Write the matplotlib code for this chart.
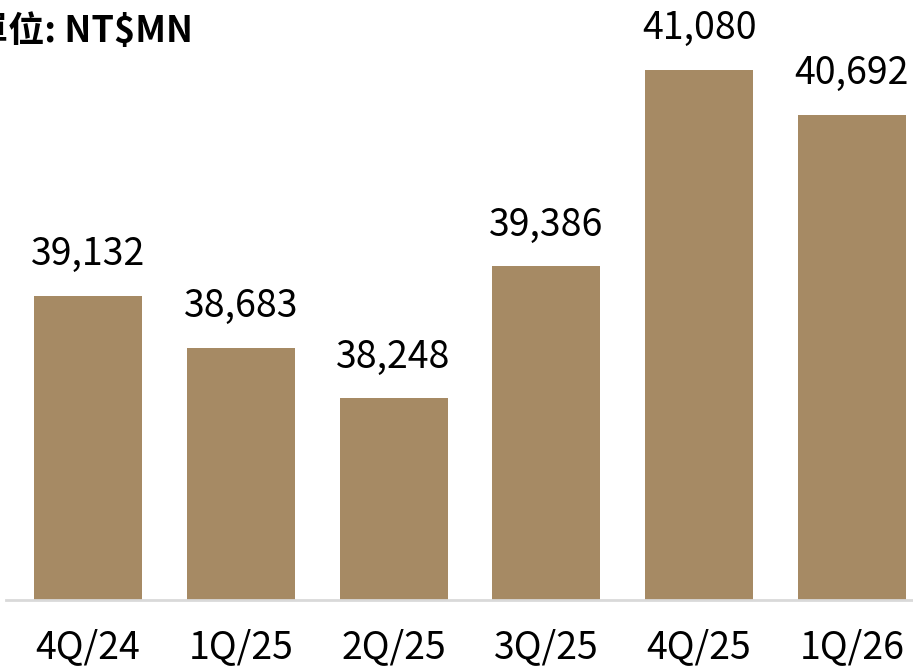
import matplotlib.pyplot as plt

plt.rcParams['font.family'] = ['Noto Sans CJK TC', 'DejaVu Sans']

# 資料
quarters = ['4Q/24', '1Q/25', '2Q/25', '3Q/25', '4Q/25', '1Q/26']
revenue = [39132, 38683, 38248, 39386, 41080, 40692]
bar_color = '#A68A64'

fig = plt.figure(figsize=(9.13, 6.70), dpi=100)
ax = fig.add_axes([6 / 913, 1 - 600 / 670, 1 - 6 / 913, 600 / 670])

x = range(len(quarters))
bars = ax.bar(x, revenue, width=0.707, color=bar_color)

ax.set_xlim(-0.537, 5.40)
ax.set_ylim(36504, 41684)

for xi, v in zip(x, revenue):
    ax.annotate(f'{v:,}', (xi, v), xytext=(0, 22), textcoords='offset points',
                ha='center', va='baseline', fontsize=27)

ax.set_xticks(list(x))
ax.set_xticklabels(quarters, fontsize=27)
ax.tick_params(axis='x', length=0, pad=20)
ax.set_yticks([])

for s in ['top', 'right', 'left']:
    ax.spines[s].set_visible(False)
ax.spines['bottom'].set_color('#D9D9D9')
ax.spines['bottom'].set_linewidth(2)

fig.text(-28 / 913, 1 - 42 / 670, '單位: NT$MN', fontsize=26, ha='left',
         va='baseline', fontweight='semibold')

fig.savefig('out.png', dpi=100)
